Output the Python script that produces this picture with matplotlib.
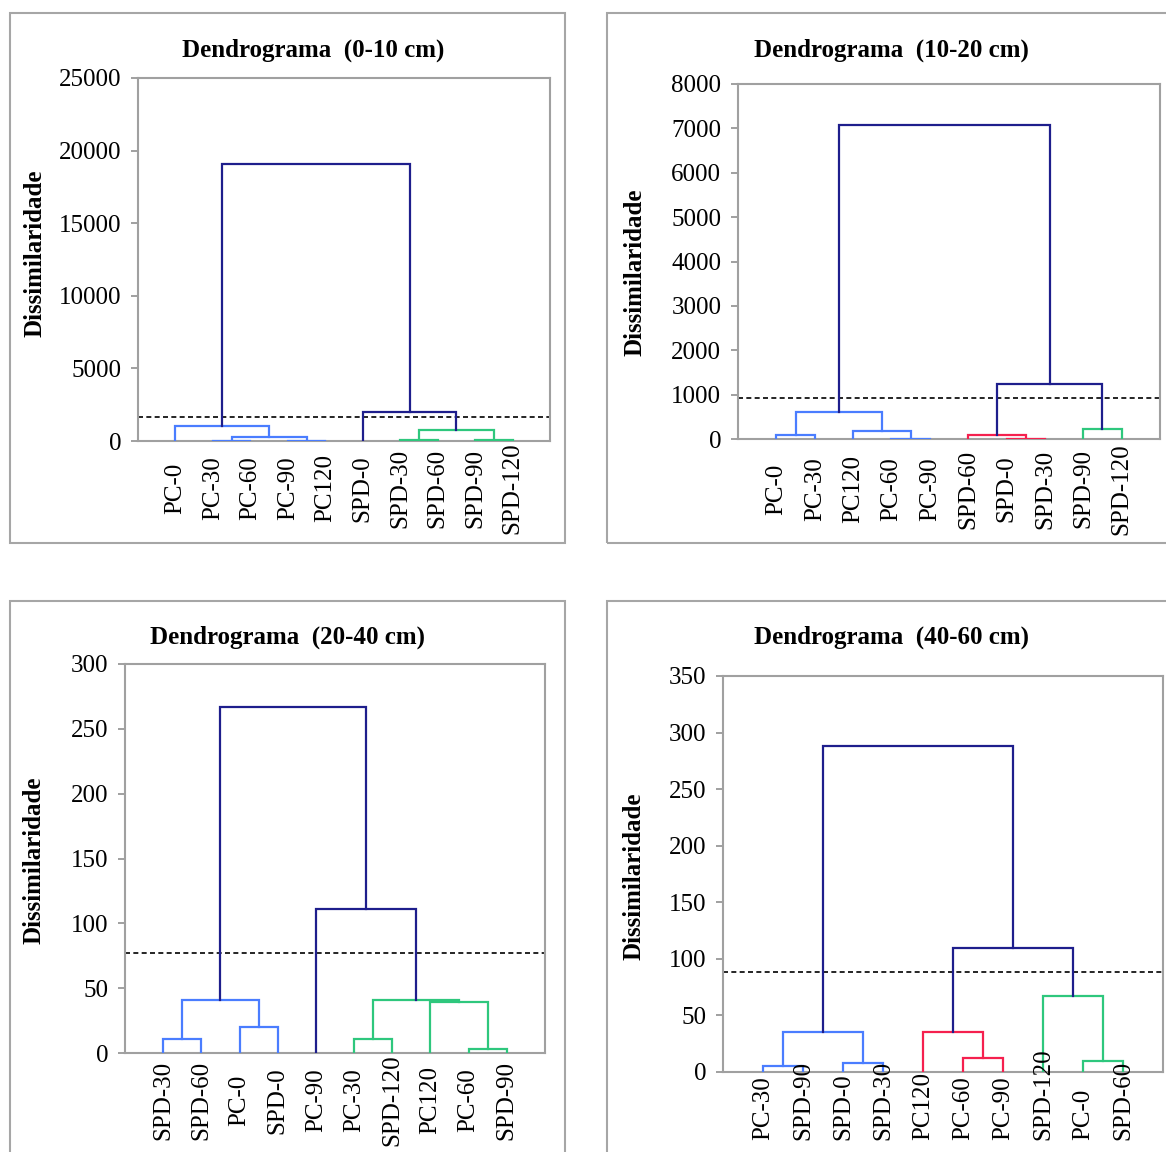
import numpy as np
import matplotlib
matplotlib.use("Agg")
import matplotlib.pyplot as plt
from matplotlib.patches import Rectangle

plt.rcParams['font.family'] = ['Liberation Serif', 'DejaVu Serif']

W, H = 1166, 1152

# ---- data ----
titles = ["Dendrograma  (0-10 cm)", "Dendrograma  (10-20 cm)",
          "Dendrograma  (20-40 cm)", "Dendrograma  (40-60 cm)"]

leaves_010 = ["PC-0", "PC-30", "PC-60", "PC-90", "PC120",
              "SPD-0", "SPD-30", "SPD-60", "SPD-90", "SPD-120"]
# (left node, right node, height); new nodes numbered from 10 on
merges_010 = [(1, 2, 20), (3, 4, 20), (10, 11, 275), (0, 12, 1050),
              (6, 7, 100), (8, 9, 100), (14, 15, 760), (5, 16, 2000),
              (13, 17, 19100)]
cut_010 = 1650

leaves_1020 = ["PC-0", "PC-30", "PC120", "PC-60", "PC-90",
               "SPD-60", "SPD-0", "SPD-30", "SPD-90", "SPD-120"]
merges_1020 = [(0, 1, 80), (3, 4, 10), (2, 11, 180), (10, 12, 610),
               (6, 7, 10), (5, 14, 90), (8, 9, 225), (15, 16, 1240),
               (13, 17, 7080)]
cut_1020 = 920

leaves_2040 = ["SPD-30", "SPD-60", "PC-0", "SPD-0", "PC-90",
               "PC-30", "SPD-120", "PC120", "PC-60", "SPD-90"]
merges_2040 = [(0, 1, 11), (2, 3, 20), (10, 11, 41), (5, 6, 11),
               (8, 9, 3), (7, 14, 39), (13, 15, 41), (4, 16, 111),
               (12, 17, 267)]
cut_2040 = 77

leaves_4060 = ["PC-30", "SPD-90", "SPD-0", "SPD-30", "PC120",
               "PC-60", "PC-90", "SPD-120", "PC-0", "SPD-60"]
merges_4060 = [(0, 1, 5), (2, 3, 8), (10, 11, 35), (5, 6, 12),
               (4, 13, 35), (8, 9, 10), (7, 15, 67), (14, 16, 110),
               (12, 17, 288)]
cut_4060 = 88

yticks = [np.arange(0, 25001, 5000), np.arange(0, 8001, 1000),
          np.arange(0, 301, 50), np.arange(0, 351, 50)]

# ---- styling / layout (pixels) ----
NAVY = "#1e1e8c"
BLUE = "#4a7dff"
RED = "#f5204e"
GREEN = "#2ec77d"
cluster_cols = [[BLUE, GREEN], [BLUE, RED, GREEN], [BLUE, GREEN], [BLUE, RED, GREEN]]

boxes = [(10, 13, 565, 543), (607, 13, 1175, 543),
         (10, 601, 565, 1160), (607, 601, 1175, 1160)]
axes_px = [(138, 78, 550, 441), (738, 84, 1160, 439),
           (125, 664, 545, 1053), (723, 676, 1163, 1072)]
title_px = [(313, 50), (891, 50), (288, 637), (891, 637)]
ylab_px = [(35, 253), (635, 272), (34, 860), (634, 876)]
lab_off = [34, 36, 34, 49]
lab_va = ['center', 'center', 'center', 'bottom']

fig = plt.figure(figsize=(W / 100, H / 100), dpi=100)


def dendro(ax, leaves, merges, cut, cols, off, va):
    n = len(leaves)
    xs = list(np.arange(1, n + 1, dtype=float))
    hs = [0.0] * n
    members = [[i] for i in range(n)]
    for a, b, h in merges:
        xs.append((xs[a] + xs[b]) / 2)
        hs.append(h)
        members.append(members[a] + members[b])
    # cluster roots: merges under the cut whose parent is above it
    parent = {}
    for k, (a, b, h) in enumerate(merges):
        parent[a] = n + k
        parent[b] = n + k
    roots = [n + k for k, m in enumerate(merges)
             if m[2] <= cut and hs[parent.get(n + k, n + k)] > cut]
    roots.sort(key=lambda r: min(members[r]))
    leaf_col = {}
    for c, r in zip(cols, roots):
        for lf in members[r]:
            leaf_col[lf] = c
    for k, (a, b, h) in enumerate(merges):
        if h > cut:
            col = NAVY
        else:
            col = leaf_col[members[n + k][0]]
        ax.plot([xs[a], xs[a], xs[b], xs[b]], [hs[a], h, h, hs[b]],
                color=col, lw=1.6, solid_joinstyle='miter', zorder=3)
    ax.axhline(cut, color='black', lw=1.2, ls=(0, (3, 2)))
    for i, name in enumerate(leaves):
        ax.annotate(name, xy=(i + 1, 0), xycoords=('data', 'axes fraction'),
                    xytext=(0, -off), textcoords='offset points',
                    rotation=90, ha='center', va=va, fontsize=18,
                    annotation_clip=False)
    ax.set_xlim(0, n + 1)


for p in range(4):
    bx0, by0, bx1, by1 = boxes[p]
    fig.patches.append(Rectangle((bx0 / W, 1 - by1 / H), (bx1 - bx0) / W, (by1 - by0) / H,
                                 transform=fig.transFigure, fill=False,
                                 edgecolor='#a6a6a6', lw=1.5))
    x0, y0, x1, y1 = axes_px[p]
    ax = fig.add_axes([x0 / W, 1 - y1 / H, (x1 - x0) / W, (y1 - y0) / H])
    leaves, merges, cut = [(leaves_010, merges_010, cut_010),
                           (leaves_1020, merges_1020, cut_1020),
                           (leaves_2040, merges_2040, cut_2040),
                           (leaves_4060, merges_4060, cut_4060)][p]
    dendro(ax, leaves, merges, cut, cluster_cols[p], lab_off[p], lab_va[p])
    ax.set_ylim(0, yticks[p][-1])
    ax.set_yticks(yticks[p])
    ax.set_xticks([])
    ax.tick_params(axis='y', direction='out', length=5, width=1.2,
                   color='#909090', labelsize=18, pad=7)
    for s in ax.spines.values():
        s.set_color('#a0a0a0')
        s.set_linewidth(1.5)
    tx, ty = title_px[p]
    fig.text(tx / W, 1 - ty / H, titles[p], ha='center', va='center',
             fontsize=18, fontweight='bold')
    lx, ly = ylab_px[p]
    fig.text(lx / W, 1 - ly / H, "Dissimilaridade", rotation=90, ha='center',
             va='center', fontsize=18, fontweight='bold')

fig.savefig("out.png", dpi=100)
